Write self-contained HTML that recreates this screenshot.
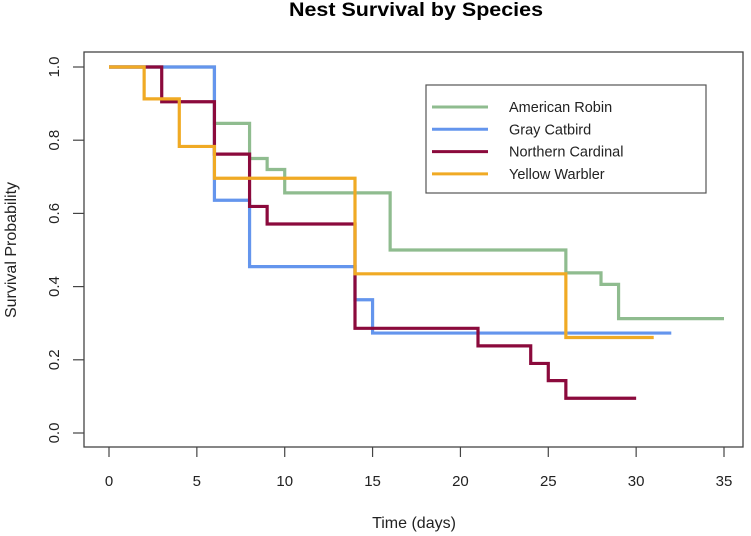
<!DOCTYPE html>
<html><head><meta charset="utf-8"><style>
body{margin:0;background:#fff;}
svg{display:block;font-family:"Liberation Sans",Arial,sans-serif;}
</style></head><body>
<svg id="chart" width="751" height="536" viewBox="0 0 751 536">
<text x="416" y="16" text-anchor="middle" font-size="19" font-weight="bold" textLength="254" lengthAdjust="spacingAndGlyphs">Nest Survival by Species</text>
<rect x="84" y="52" width="659" height="395" fill="none" stroke="#444" stroke-width="1.3"/>
<g id="axes"></g>
<g id="series"></g>
<text x="414" y="528" text-anchor="middle" font-size="16" fill="#222">Time (days)</text>
<text transform="translate(16,250) rotate(-90)" text-anchor="middle" font-size="16" fill="#222">Survival Probability</text>
<g>
<rect x="426" y="85" width="280" height="108" fill="#fff" stroke="#555" stroke-width="1.2"/>
<g id="legend"></g>
</g>
</svg>
<script>
const names=["American Robin","Gray Catbird","Northern Cardinal","Yellow Warbler"];
const colors=["#8fbc8f","#6495ed","#8b0a3c","#f0aa24"];
const robinT=[0,6,8,9,10,16,26,28,29,35];
const robinS=[1,0.846,0.75,0.72,0.656,0.5,0.4375,0.406,0.3125,0.3125];
const catbirdT=[0,6,8,14,15,32];
const catbirdS=[1,0.636,0.4545,0.364,0.273,0.273];
const cardinalT=[0,3,6,8,9,14,21,24,25,26,30];
const cardinalS=[1,0.905,0.762,0.619,0.571,0.286,0.238,0.19,0.143,0.095,0.095];
const warblerT=[0,2,4,6,14,26,31];
const warblerS=[1,0.913,0.783,0.696,0.435,0.261,0.261];
const xTicks=[0,5,10,15,20,25,30,35];
const yTicks=[0,0.2,0.4,0.6,0.8,1.0];
const NS="http://www.w3.org/2000/svg";
const xs=t=>109+t*(615/35);
const ys=v=>433-v*366;
function mk(tag,attrs,parent){const e=document.createElementNS(NS,tag);for(const k in attrs)e.setAttribute(k,attrs[k]);parent.appendChild(e);return e;}
const ax=document.getElementById('axes');
xTicks.forEach(t=>{
  const l=mk('line',{x1:xs(t),x2:xs(t),y1:447,y2:457,stroke:'#444','stroke-width':1.2},ax);
  
  
  const tx=mk('text',{x:xs(t),y:486,'text-anchor':'middle','font-size':15,fill:'#222'},ax);
  tx.textContent=t;
  
  
});
yTicks.forEach(v=>{
  const l=mk('line',{x1:73,x2:84,y1:ys(v),y2:ys(v),stroke:'#444','stroke-width':1.2},ax);
  
  
  const tx=mk('text',{transform:`translate(59,${ys(v)}) rotate(-90)`,'text-anchor':'middle','font-size':15,fill:'#222'},ax);
  tx.textContent=v.toFixed(1);
  
  
});
const sg=document.getElementById('series');
const data=[[robinT,robinS],[catbirdT,catbirdS],[cardinalT,cardinalS],[warblerT,warblerS]];
const keys=['american-robin','gray-catbird','northern-cardinal','yellow-warbler'];
data.forEach(([T,S],i)=>{
  let d=`M${xs(T[0])},${ys(S[0])}`;
  for(let k=1;k<T.length;k++){d+=` H${xs(T[k])} V${ys(S[k])}`;}
  const p=mk('path',{d:d,fill:'none',stroke:colors[i],'stroke-width':3.2},sg);
  
  
});
const lg=document.getElementById('legend');
names.forEach((n,i)=>{
  const y=107+i*22.3;
  const l=mk('line',{x1:432,x2:488,y1:y,y2:y,stroke:colors[i],'stroke-width':3},lg);
  
  
  const t=mk('text',{x:509,y:y+5,'font-size':14.5,fill:'#222'},lg);
  t.textContent=n;
  
  
});
</script>
</body></html>
